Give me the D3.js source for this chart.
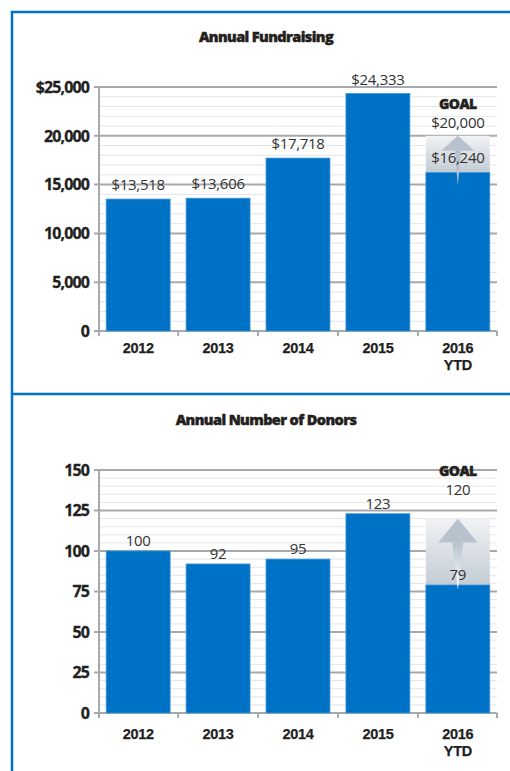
<!DOCTYPE html>
<html>
<head>
<meta charset="utf-8">
<script src="https://cdn.jsdelivr.net/npm/d3@7"></script>
<style>
  body { margin: 0; background: #fff; }
  svg { display: block; }
</style>
</head>
<body>
<svg id="chart" width="510" height="771"></svg>
<script>
const years = ["2012", "2013", "2014", "2015", "2016"];
const yearSub = ["", "", "", "", "YTD"];

const fundsValues = [13518, 13606, 17718, 24333, 16240];
const fundsGoal = 20000;
const fundsTicks = [0, 5000, 10000, 15000, 20000, 25000];

const donorValues = [100, 92, 95, 123, 79];
const donorGoal = 120;
const donorTicks = [0, 25, 50, 75, 100, 125, 150];

const svg = d3.select("#chart");
const blue = "#0072c6";
const font = "'Open Sans', sans-serif";
const catFont = "'Liberation Sans', Arial, sans-serif";

// outer frame
svg.append("line").attr("x1", 12).attr("x2", 12).attr("y1", 11).attr("y2", 771)
  .attr("stroke", blue).attr("stroke-width", 2.5);
svg.append("line").attr("x1", 11).attr("x2", 510).attr("y1", 12).attr("y2", 12)
  .attr("stroke", blue).attr("stroke-width", 2.5);
svg.append("line").attr("x1", 11).attr("x2", 510).attr("y1", 394).attr("y2", 394)
  .attr("stroke", blue).attr("stroke-width", 2.5);

const defs = svg.append("defs");
const grad = defs.append("linearGradient").attr("id", "goalGrad")
  .attr("x1", 0).attr("x2", 0).attr("y1", 0).attr("y2", 1);
grad.append("stop").attr("offset", "0%").attr("stop-color", "#f1f2f4");
grad.append("stop").attr("offset", "100%").attr("stop-color", "#c3ccd5");
const stemGrad = defs.append("linearGradient").attr("id", "stemGrad")
  .attr("x1", 0).attr("x2", 0).attr("y1", 0).attr("y2", 1);
stemGrad.append("stop").attr("offset", "0%").attr("stop-color", "#b7c2cd");
stemGrad.append("stop").attr("offset", "100%").attr("stop-color", "#ffffff");

function drawChart(opts) {
  const { title, titleY, top, bottom, values, goal, ticks, minorStep, fmtTick, fmtVal, labelY, stemColor } = opts;
  const left = 99, right = 497;
  const g = svg.append("g");

  const x = d3.scaleBand().domain(years).range([left, right])
    .paddingInner(0.2).paddingOuter(0.09);
  const y = d3.scaleLinear().domain([0, d3.max(ticks)]).range([bottom, top]);

  g.append("text")
    .attr("x", 266).attr("y", titleY)
    .attr("text-anchor", "middle")
    .attr("font-family", font).attr("font-weight", 800)
    .attr("font-size", 14.5).attr("letter-spacing", -0.6)
    .attr("fill", "#231f20").attr("stroke", "#231f20").attr("stroke-width", 0.45)
    .text(title);

  // minor grid
  g.append("g").selectAll("line")
    .data(d3.range(0, d3.max(ticks) + 1, minorStep).filter(v => !ticks.includes(v)))
    .join("line")
    .attr("x1", left).attr("x2", right)
    .attr("y1", d => y(d)).attr("y2", d => y(d))
    .attr("stroke", "#e4e5e7").attr("stroke-width", 1);

  // major grid
  g.append("g").selectAll("line")
    .data(ticks)
    .join("line")
    .attr("x1", left - 5).attr("x2", right)
    .attr("y1", d => y(d)).attr("y2", d => y(d))
    .attr("stroke", "#a7a9ac").attr("stroke-width", 2);

  // y axis line
  g.append("line").attr("x1", left).attr("x2", left)
    .attr("y1", top).attr("y2", bottom + 1)
    .attr("stroke", "#a7a9ac").attr("stroke-width", 2);

  // x ticks between bands
  const step = x.step();
  const bounds = years.map(d => x(d) - step * x.paddingInner() / 2).slice(1);
  g.append("g").selectAll("line")
    .data([left, ...bounds, right])
    .join("line")
    .attr("x1", d => d).attr("x2", d => d)
    .attr("y1", bottom).attr("y2", bottom + 5)
    .attr("stroke", "#a7a9ac").attr("stroke-width", 2);

  // y tick labels
  g.append("g").selectAll("text")
    .data(ticks)
    .join("text")
    .attr("x", left - 10).attr("y", d => y(d))
    .attr("dy", "0.36em")
    .attr("text-anchor", "end")
    .attr("font-family", font).attr("font-weight", 700)
    .attr("font-size", 16).attr("letter-spacing", -0.9)
    .attr("fill", "#231f20").attr("stroke", "#231f20").attr("stroke-width", 0.3)
    .text(fmtTick);

  const last = years[years.length - 1];
  const lastVal = values[values.length - 1];

  // goal box
  g.append("rect")
    .attr("x", x(last)).attr("width", x.bandwidth())
    .attr("y", y(goal)).attr("height", y(lastVal) - y(goal))
    .attr("fill", "url(#goalGrad)");

  // bars
  g.append("g").selectAll("rect")
    .data(values)
    .join("rect")
    .attr("x", (d, i) => x(years[i]))
    .attr("width", x.bandwidth())
    .attr("y", d => y(d))
    .attr("height", d => y(0) - y(d))
    .attr("fill", blue)
    .attr("stroke", "#3d95dc").attr("stroke-width", 0.8);

  // arrow
  const cx = x(last) + x.bandwidth() / 2;
  const headTop = y(goal);
  const headH = opts.headH, headW = opts.headW;
  const stemW = opts.stemW;
  const tipY = y(lastVal) + opts.tipBelow;
  g.append("path")
    .attr("d", `M${cx - stemW / 2},${headTop + headH} L${cx + stemW / 2},${headTop + headH} L${cx},${tipY} Z`)
    .attr("fill", stemColor);
  g.append("path")
    .attr("d", `M${cx},${headTop} L${cx + headW / 2},${headTop + headH} L${cx - headW / 2},${headTop + headH} Z`)
    .attr("fill", "#b7c2cd");

  // value labels
  g.append("g").selectAll("text")
    .data(values)
    .join("text")
    .attr("x", (d, i) => x(years[i]) + x.bandwidth() / 2)
    .attr("y", d => y(d) - opts.valOffset)
    .attr("text-anchor", "middle")
    .attr("font-family", font).attr("font-size", 15)
    .attr("letter-spacing", -0.3)
    .attr("fill", "#333")
    .text(fmtVal);

  // goal labels
  g.append("text")
    .attr("x", cx).attr("y", y(goal) + opts.goalLabelDy)
    .attr("text-anchor", "middle")
    .attr("font-family", font).attr("font-size", 15)
    .attr("letter-spacing", -0.3)
    .attr("fill", "#333")
    .text(fmtVal(goal));
  g.append("text")
    .attr("x", cx).attr("y", y(goal) + opts.goalLabelDy - 19)
    .attr("text-anchor", "middle")
    .attr("font-family", font).attr("font-weight", 800)
    .attr("font-size", 14).attr("letter-spacing", -0.6)
    .attr("fill", "#231f20").attr("stroke", "#231f20").attr("stroke-width", 0.45)
    .text("GOAL");

  // category labels (second line as its own text)
  const catStyle = sel => sel
    .attr("text-anchor", "middle")
    .attr("font-family", catFont).attr("font-weight", 700)
    .attr("font-size", 14.5).attr("letter-spacing", -0.3)
    .attr("fill", "#231f20").attr("stroke", "#231f20").attr("stroke-width", 0.25);

  g.append("g").selectAll("text")
    .data(years)
    .join("text")
    .attr("x", d => x(d) + x.bandwidth() / 2)
    .attr("y", labelY)
    .call(catStyle)
    .text(d => d);

  g.append("g").selectAll("text")
    .data(years.filter((d, i) => yearSub[i]))
    .join("text")
    .attr("x", d => x(d) + x.bandwidth() / 2)
    .attr("y", labelY + 16.5)
    .call(catStyle)
    .text(d => yearSub[years.indexOf(d)]);
}

drawChart({
  title: "Annual Fundraising",
  titleY: 42,
  top: 87, bottom: 331,
  values: fundsValues, goal: fundsGoal, ticks: fundsTicks,
  minorStep: 1000,
  fmtTick: d => d === 25000 ? "$" + d3.format(",")(d) : d3.format(",")(d),
  fmtVal: d => "$" + d3.format(",")(d),
  valOffset: 9,
  labelY: 353,
  goalLabelDy: -8,
  headH: 15, headW: 33, stemW: 6, tipBelow: 13,
  stemColor: "#b7c2cd"
});

drawChart({
  title: "Annual Number of Donors",
  titleY: 425,
  top: 470, bottom: 713,
  values: donorValues, goal: donorGoal, ticks: donorTicks,
  minorStep: 5,
  fmtTick: d => d3.format(",")(d),
  fmtVal: d => d3.format(",")(d),
  valOffset: 5,
  labelY: 739,
  goalLabelDy: -24,
  headH: 24, headW: 39, stemW: 11, tipBelow: 5,
  stemColor: "url(#stemGrad)"
});
</script>
</body>
</html>
